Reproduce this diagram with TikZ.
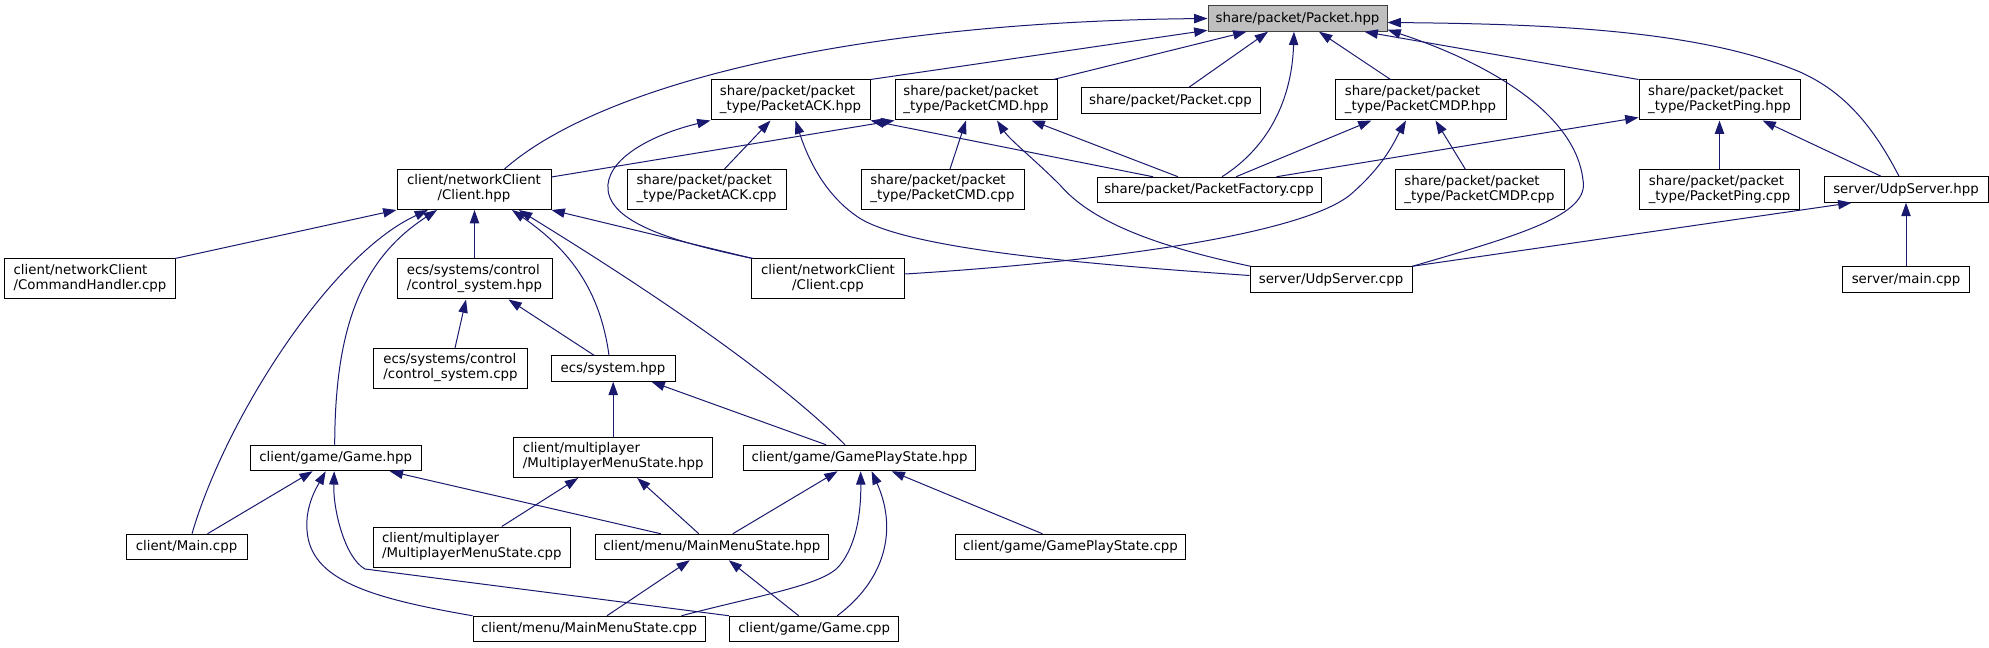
\documentclass[tikz,border=0pt]{standalone}
\usepackage{fontspec}
\setmainfont{DejaVu Sans}
\usetikzlibrary{arrows.meta,calc}
\definecolor{navyc}{HTML}{191970}
\definecolor{graybox}{HTML}{BFBFBF}
\definecolor{darkb}{HTML}{404040}
\newlength\lnA \newlength\lnB
\newcommand\twoln[2]{\settowidth\lnA{#1}\settowidth\lnB{#2}\ifdim\lnA>\lnB\begin{tabular}{@{}l@{}}#1\\\makebox[\lnA]{#2}\end{tabular}\else\begin{tabular}{@{}l@{}}#1\\#2\end{tabular}\fi}
\tikzset{
  fbox/.style 2 args={draw=black, fill=white, line width=0.75pt, inner sep=0pt,
    font=\fontsize{10}{11.25}\selectfont, minimum width=#1*0.75pt, minimum height=#2*0.75pt},
  dep/.style={draw=navyc, line width=0.75pt, -{Triangle[length=10pt,width=7pt,fill=navyc]}}
}
\begin{document}
\begin{tikzpicture}[x=0.75pt,y=-0.75pt]
\useasboundingbox[fill=white] (0,0) rectangle (1989,648);
% row 0
\node[fbox={179}{25.5}, fill=graybox, draw=darkb] (pkt) at (1297.5,18.5) {share/packet/Packet.hpp};
% row 1
\node[fbox={159}{40}] (ack) at (790.5,100) {\twoln{share/packet/packet}{\_type/PacketACK.hpp}};
\node[fbox={162}{40}] (cmd) at (976,100) {\twoln{share/packet/packet}{\_type/PacketCMD.hpp}};
\node[fbox={179}{25.5}] (pcpp) at (1170.5,100.5) {share/packet/Packet.cpp};
\node[fbox={171}{40}] (cmdp) at (1420.5,100) {\twoln{share/packet/packet}{\_type/PacketCMDP.hpp}};
\node[fbox={161}{40}] (ping) at (1719.5,100) {\twoln{share/packet/packet}{\_type/PacketPing.hpp}};
% row 2
\node[fbox={154}{40}] (chpp) at (474,189.5) {\twoln{client/networkClient}{/Client.hpp}};
\node[fbox={159}{40}] (ackc) at (706.5,189.5) {\twoln{share/packet/packet}{\_type/PacketACK.cpp}};
\node[fbox={163}{40}] (cmdc) at (942.5,189.5) {\twoln{share/packet/packet}{\_type/PacketCMD.cpp}};
\node[fbox={224}{25.5}] (fact) at (1209,190) {share/packet/PacketFactory.cpp};
\node[fbox={169}{40}] (cmdpc) at (1479.5,190) {\twoln{share/packet/packet}{\_type/PacketCMDP.cpp}};
\node[fbox={160}{40}] (pingc) at (1719.5,190) {\twoln{share/packet/packet}{\_type/PacketPing.cpp}};
\node[fbox={164}{25.5}] (udph) at (1906,189.5) {server/UdpServer.hpp};
% row 3
\node[fbox={171}{40}] (cmdh) at (90,279) {\twoln{client/networkClient}{/CommandHandler.cpp}};
\node[fbox={155}{40}] (ctrlh) at (474.5,279) {\twoln{ecs/systems/control}{/control\_system.hpp}};
\node[fbox={153.5}{40}] (ccpp) at (828,279) {\twoln{client/networkClient}{/Client.cpp}};
\node[fbox={162}{25.5}] (udpc) at (1331,279.5) {server/UdpServer.cpp};
\node[fbox={127.5}{25.5}] (smain) at (1906,279.5) {server/main.cpp};
% row 4
\node[fbox={153.5}{40}] (ctrlc) at (450.5,368.5) {\twoln{ecs/systems/control}{/control\_system.cpp}};
\node[fbox={124}{25.5}] (sys) at (613,368.5) {ecs/system.hpp};
% row 5
\node[fbox={170.6}{25.5}] (game) at (335.7,458) {client/game/Game.hpp};
\node[fbox={198.5}{40}] (mpsh) at (613.2,457.5) {\twoln{client/multiplayer}{/MultiplayerMenuState.hpp}};
\node[fbox={232.6}{25.5}] (gpsh) at (859.6,458) {client/game/GamePlayState.hpp};
% row 6
\node[fbox={121}{25.5}] (mainc) at (186.5,547) {client/Main.cpp};
\node[fbox={197.5}{40}] (mpsc) at (471.8,547) {\twoln{client/multiplayer}{/MultiplayerMenuState.cpp}};
\node[fbox={233.6}{25.5}] (mmsh) at (711.8,547) {client/menu/MainMenuState.hpp};
\node[fbox={230.7}{25.5}] (gpsc) at (1070.4,547) {client/game/GamePlayState.cpp};
% row 7
\node[fbox={232}{25.5}] (mmsc) at (589,629) {client/menu/MainMenuState.cpp};
\node[fbox={169.5}{25.5}] (gamec) at (814.2,629) {client/game/Game.cpp};

% --- edges into Packet.hpp
\draw[dep] ($(chpp.north)+(30.5,0)$) .. controls (600,85) and (850,22) .. (pkt.west);
\draw[dep] (ack.north east) -- ($(pkt.south west)+(0,-1.5)$);
\draw[dep] ($(cmd.north east)+(-4,0)$) -- ($(pkt.south west)+(39,0)$);
\draw[dep] ($(pcpp.north)+(18.5,0)$) -- ($(pkt.south)+(-29.5,0)$);
\draw[dep] ($(fact.north)+(13,0)$) .. controls (1272,145) and (1292,95) .. ($(pkt.south)+(-3.5,0)$);
\draw[dep] ($(cmdp.north)+(-30,0)$) -- ($(pkt.south)+(21.5,0)$);
\draw[dep] (ping.north west) -- ($(pkt.south east)+(-23,0)$);
\draw[dep] (udpc.north east) .. controls (1520,235) and (1590,215) .. (1583,180) .. controls (1575,110) and (1480,60) .. ($(pkt.south east)+(0,-2)$);
\draw[dep] ($(udph.north)+(-7,0)$) .. controls (1870,120) and (1840,90) .. (1800,72) .. controls (1700,30) and (1550,24) .. ($(pkt.east)+(0,4)$);
% --- PacketACK.hpp
\draw[dep] ($(ackc.north)+(18,0)$) -- ($(ack.south)+(-20,0)$);
\draw[dep] ($(ccpp.north west)+(2,0)$) .. controls (680,243) and (612,225) .. (608,190) .. controls (605,160) and (650,135) .. (ack.south west);
\draw[dep] ($(fact.north)+(-56,0)$) -- (ack.south east);
\draw[dep] ($(udpc.west)+(0,-4)$) .. controls (1100,265) and (900,250) .. (855,215) .. controls (820,190) and (805,150) .. ($(ack.south)+(5,0)$);
% --- PacketCMD.hpp
\draw[dep] ($(chpp.north east)+(0,8)$) -- (cmd.south west);
\draw[dep] ($(cmdc.north)+(7.5,0)$) -- ($(cmd.south)+(-10,0)$);
\draw[dep] ($(fact.north)+(-31,0)$) -- ($(cmd.south east)+(-26,0)$);
\draw[dep] ($(udpc.north west)+(1,0)$) .. controls (1150,245) and (1090,220) .. (1060,185) .. controls (1035,160) and (1010,140) .. ($(cmd.south)+(21,0)$);
% --- PacketCMDP.hpp
\draw[dep] ($(fact.north)+(27,0)$) -- ($(cmdp.south west)+(37,0)$);
\draw[dep] ($(cmdpc.north)+(-14,0)$) -- ($(cmdp.south)+(15,0)$);
\draw[dep] ($(ccpp.east)+(0,-5)$) .. controls (1100,262) and (1300,235) .. (1350,195) .. controls (1385,165) and (1395,140) .. ($(cmdp.south)+(-14.5,0)$);
% --- PacketPing.hpp
\draw[dep] ($(fact.north east)+(-45,0)$) -- ($(ping.south west)+(0,-3)$);
\draw[dep] (pingc.north) -- (ping.south);
\draw[dep] ($(udph.north)+(-25,0)$) -- ($(ping.south)+(43,0)$);
% --- UdpServer.hpp
\draw[dep] (udpc.north east) -- ($(udph.south west)+(28,0)$);
\draw[dep] (smain.north) -- (udph.south);
% --- Client.hpp
\draw[dep] ($(cmdh.north east)+(-1,0)$) -- (chpp.south west);
\draw[dep] ($(mainc.north)+(5.5,0)$) .. controls (225,420) and (330,255) .. ($(chpp.south)+(-46,0)$);
\draw[dep] ($(game.north)+(-1,0)$) .. controls (335,330) and (360,260) .. ($(chpp.south)+(-37,0)$);
\draw[dep] (ctrlh.north) -- (ctrlh.north |- chpp.south);
\draw[dep] ($(sys.north)+(-4,0)$) .. controls (600,290) and (570,250) .. ($(chpp.south)+(38,0)$);
\draw[dep] ($(gpsh.north)+(-14.6,0)$) .. controls (760,360) and (600,260) .. ($(chpp.south)+(45,0)$);
\draw[dep] ($(ccpp.north west)+(2,0)$) -- (chpp.south east);
% --- control_system.hpp
\draw[dep] ($(ctrlc.north)+(4.5,0)$) -- ($(ctrlh.south)+(-8.5,0)$);
\draw[dep] ($(sys.north)+(-19,0)$) -- ($(ctrlh.south)+(34,0)$);
% --- ecs/system.hpp
\draw[dep] (mpsh.north) -- (mpsh.north |- sys.south);
\draw[dep] ($(gpsh.north)+(-33.6,0)$) -- ($(sys.south east)+(-24,0)$);
% --- Game.hpp
\draw[dep] ($(mainc.north)+(21,0)$) -- ($(game.south)+(-23,0)$);
\draw[dep] ($(mmsh.north)+(-51,0)$) -- ($(game.south)+(54,0)$);
\draw[dep] (mmsc.north west) .. controls (370,598) and (310,580) .. (307,530) .. controls (305,505) and (318,485) .. ($(game.south)+(-10,0)$);
\draw[dep] (gamec.north west) -- (365,569) .. controls (345,558) and (333,510) .. ($(game.south)+(-1.5,0)$);
% --- MultiplayerMenuState.hpp
\draw[dep] ($(mpsc.north)+(30,0)$) -- ($(mpsh.south)+(-35,0)$);
\draw[dep] ($(mmsh.north)+(-13,0)$) -- ($(mpsh.south)+(24,0)$);
% --- GamePlayState.hpp
\draw[dep] ($(mmsh.north)+(21,0)$) -- ($(gpsh.south)+(-22,0)$);
\draw[dep] ($(gpsc.north)+(-28,0)$) -- ($(gpsh.south)+(32,0)$);
\draw[dep] ($(mmsc.north east)+(-24,0)$) .. controls (760,595) and (825,585) .. (840,565) .. controls (860,540) and (861,500) .. ($(gpsh.south)+(1,0)$);
\draw[dep] ($(gamec.north)+(23,0)$) .. controls (885,580) and (898,530) .. ($(gpsh.south)+(12,0)$);
% --- MainMenuState.hpp
\draw[dep] ($(mmsc.north)+(18,0)$) -- ($(mmsh.south)+(-22,0)$);
\draw[dep] ($(gamec.north)+(-15.5,0)$) -- ($(mmsh.south)+(17,0)$);
\end{tikzpicture}
\end{document}
